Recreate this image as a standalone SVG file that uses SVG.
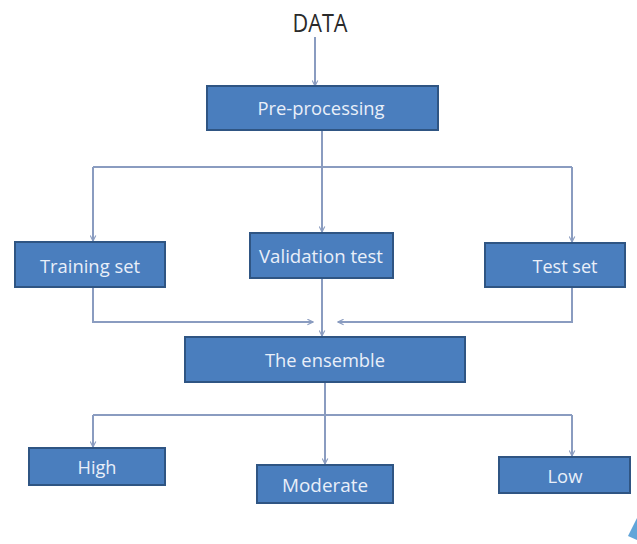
<svg xmlns="http://www.w3.org/2000/svg" width="637" height="544" viewBox="0 0 637 544">
<defs>
<marker id="ah" viewBox="0 0 10 10" refX="9" refY="5" markerWidth="7" markerHeight="7" orient="auto" markerUnits="userSpaceOnUse">
<path d="M1,1 L9,5 L1,9" fill="none" stroke="#8a9cc0" stroke-width="1.6"/>
</marker>
<style>
.box{fill:#4a7ebe;stroke:#2f5583;stroke-width:2}
.lbl{font-family:"Open Sans","Liberation Sans",sans-serif;font-size:19px;fill:#e9eff9;text-anchor:middle;dominant-baseline:central}
.ln{fill:none;stroke:#8a9cc0;stroke-width:2}
.arr{marker-end:url(#ah)}
</style>
</defs>
<rect width="637" height="544" fill="#ffffff"/>
<g id="connectors">
<path class="ln arr" d="M315,37 V86"/>
<path class="ln arr" d="M322,130 V232"/>
<path class="ln" d="M93,167 H572"/>
<path class="ln arr" d="M93,167 V241"/>
<path class="ln arr" d="M572,167 V242"/>
<path class="ln arr" d="M93,287 V322 H313"/>
<path class="ln arr" d="M572,287 V322 H338"/>
<path class="ln arr" d="M322,278 V336"/>
<path class="ln arr" d="M325,382 V464"/>
<path class="ln" d="M93,415 H572"/>
<path class="ln arr" d="M93,415 V447"/>
<path class="ln arr" d="M572,415 V456"/>
</g>
<g id="data">
<text x="320" y="22" font-family="'Open Sans','Liberation Sans',sans-serif" font-size="25" fill="#2a2a2a" text-anchor="middle" dominant-baseline="central" textLength="55" lengthAdjust="spacingAndGlyphs">DATA</text>
</g>
<g id="preprocessing">
<rect class="box" x="207" y="86" width="231" height="44"/>
<text class="lbl" x="321" y="108" textLength="127" lengthAdjust="spacingAndGlyphs">Pre-processing</text>
</g>
<g id="training">
<rect class="box" x="15" y="242" width="150" height="45"/>
<text class="lbl" x="90" y="266" textLength="100" lengthAdjust="spacingAndGlyphs">Training set</text>
</g>
<g id="validation">
<rect class="box" x="250" y="233" width="143" height="45"/>
<text class="lbl" x="321" y="256" textLength="124" lengthAdjust="spacingAndGlyphs">Validation test</text>
</g>
<g id="testset">
<rect class="box" x="485" y="243" width="140" height="44"/>
<text class="lbl" x="565" y="266" textLength="65" lengthAdjust="spacingAndGlyphs">Test set</text>
</g>
<g id="ensemble">
<rect class="box" x="185" y="337" width="280" height="45"/>
<text class="lbl" x="325" y="360" textLength="120" lengthAdjust="spacingAndGlyphs">The ensemble</text>
</g>
<g id="high">
<rect class="box" x="29" y="448" width="136" height="37"/>
<text class="lbl" x="97" y="467" textLength="39" lengthAdjust="spacingAndGlyphs">High</text>
</g>
<g id="moderate">
<rect class="box" x="257" y="465" width="136" height="38"/>
<text class="lbl" x="325" y="485" textLength="86" lengthAdjust="spacingAndGlyphs">Moderate</text>
</g>
<g id="low">
<rect class="box" x="499" y="457" width="131" height="36"/>
<text class="lbl" x="565" y="476" textLength="35" lengthAdjust="spacingAndGlyphs">Low</text>
</g>
<path d="M637,518 L628,536 L637,540 Z" fill="#3a8fd0" opacity="0.8"/>
</svg>
